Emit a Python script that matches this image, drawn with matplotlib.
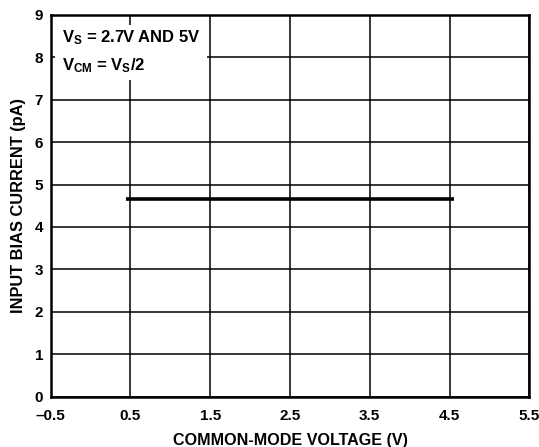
import numpy as np
import matplotlib.pyplot as plt

# Datos
x_line = [0.45, 4.56]
y_line = [4.65, 4.65]
x_ticks = [-0.5, 0.5, 1.5, 2.5, 3.5, 4.5, 5.5]
x_tick_labels = ['\u20130.5', '0.5', '1.5', '2.5', '3.5', '4.5', '5.5']
y_ticks = [0, 1, 2, 3, 4, 5, 6, 7, 8, 9]

plt.rcParams['font.family'] = ['Liberation Sans', 'DejaVu Sans']
plt.rcParams['font.weight'] = 'bold'
plt.rcParams['mathtext.fontset'] = 'custom'
plt.rcParams['mathtext.rm'] = 'Liberation Sans:bold'
plt.rcParams['mathtext.it'] = 'Liberation Sans:bold'
plt.rcParams['mathtext.bf'] = 'Liberation Sans:bold'

fig = plt.figure(figsize=(5.39, 4.47), dpi=100)
ax = fig.add_axes([0.094, 0.1125, 0.888, 0.8545])

ax.plot(x_line, y_line, color='black', linewidth=2.6, solid_capstyle='butt', zorder=3)

ax.set_xlim(-0.5, 5.5)
ax.set_ylim(0, 9)
ax.set_xticks(x_ticks)
ax.set_xticklabels(x_tick_labels)
ax.set_yticks(y_ticks)
ax.tick_params(axis='x', length=0, labelsize=11, pad=9)
ax.tick_params(axis='y', length=0, labelsize=11, pad=5.5)
for lab in ax.get_xticklabels() + ax.get_yticklabels():
    lab.set_fontweight('bold')

ax.grid(True, color='black', linewidth=1.1)
for s in ax.spines.values():
    s.set_linewidth(1.8)

ax.set_xlabel('COMMON-MODE VOLTAGE (V)', fontsize=11.6, fontweight='bold', labelpad=7)
ax.set_ylabel('INPUT BIAS CURRENT (pA)', fontsize=11.8, fontweight='bold', labelpad=6)

# Recuadro blanco con las condiciones
ax.add_patch(plt.Rectangle((-0.445, 7.46), 1.9, 1.3, facecolor='white',
                           edgecolor='none', zorder=2.5))
ax.text(-0.36, 8.45, r'V$_{\rm S}$ = 2.7V AND 5V', fontsize=12,
        fontweight='bold', va='center', zorder=4)
ax.text(-0.36, 7.8, r'V$_{\rm CM}$ = V$_{\rm S}$/2', fontsize=12,
        fontweight='bold', va='center', zorder=4)

fig.savefig('out.png', dpi=100)
